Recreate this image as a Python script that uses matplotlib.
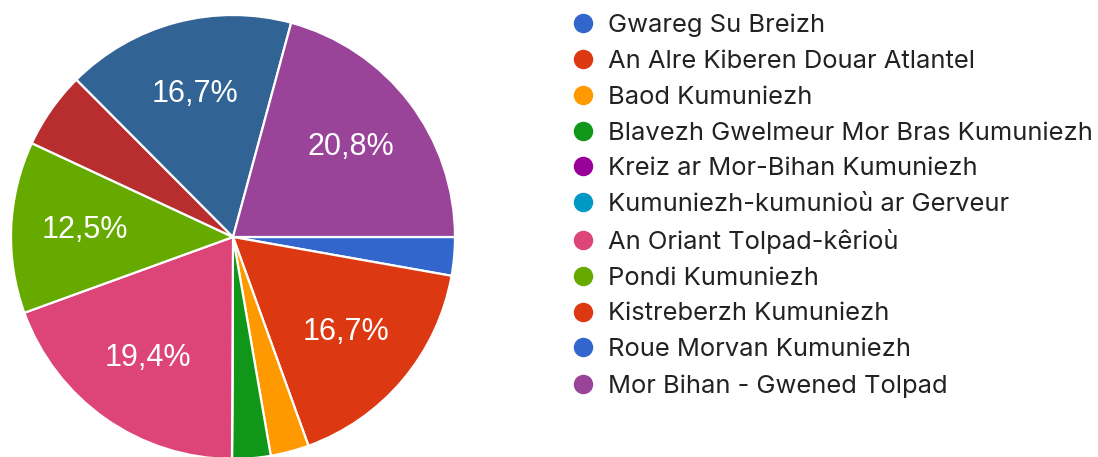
import matplotlib
matplotlib.use("Agg")
import matplotlib.pyplot as plt
from matplotlib.lines import Line2D

categories = [
    "Gwareg Su Breizh",
    "An Alre Kiberen Douar Atlantel",
    "Baod Kumuniezh",
    "Blavezh Gwelmeur Mor Bras Kumuniezh",
    "Kreiz ar Mor-Bihan Kumuniezh",
    "Kumuniezh-kumunioù ar Gerveur",
    "An Oriant Tolpad-kêrioù",
    "Pondi Kumuniezh",
    "Kistreberzh Kumuniezh",
    "Roue Morvan Kumuniezh",
    "Mor Bihan - Gwened Tolpad",
]
percentages = [2.8, 16.7, 2.8, 2.8, 0.0, 0.0, 19.4, 12.5, 5.6, 16.7, 20.8]
pie_colors = ["#3366cc", "#dc3912", "#ff9900", "#109618", "#990099", "#0099c6",
              "#dd4477", "#66aa00", "#b82e2e", "#316395", "#994499"]
legend_colors = ["#3366cc", "#dc3912", "#ff9900", "#109618", "#990099", "#0099c6",
                 "#dd4477", "#66aa00", "#dc3912", "#3366cc", "#994499"]

W, H = 1098, 457
fig = plt.figure(figsize=(W / 100, H / 100), dpi=100)

cx, cy, r = 233, 237, 222
ax = fig.add_axes([(cx - r) / W, (H - cy - r) / H, 2 * r / W, 2 * r / H])


def fmt(p):
    if p < 10:
        return ""
    return f"{p:.1f}%".replace(".", ",")


wedges, texts, autotexts = ax.pie(
    percentages, colors=pie_colors, startangle=0, counterclock=False,
    autopct=fmt, pctdistance=0.667,
    wedgeprops=dict(edgecolor="white", linewidth=1.6),
    textprops=dict(color="white", fontsize=22, family="Liberation Sans"),
)
ax.set_xlim(-1, 1)
ax.set_ylim(-1, 1)
ax.set_aspect("equal")
ax.axis("off")

handles = [Line2D([], [], marker="o", linestyle="none", markersize=13,
                  markerfacecolor=c, markeredgecolor=c) for c in legend_colors]
fig.legend(handles, categories, loc="upper left",
           bbox_to_anchor=(557 / W, 1 - 1 / H), frameon=False,
           prop=dict(family="Inter", size=18.4), labelcolor="#222222",
           handletextpad=0.5, labelspacing=0.50, borderpad=0, handlelength=1.0)

fig.savefig("out.png", dpi=100)
